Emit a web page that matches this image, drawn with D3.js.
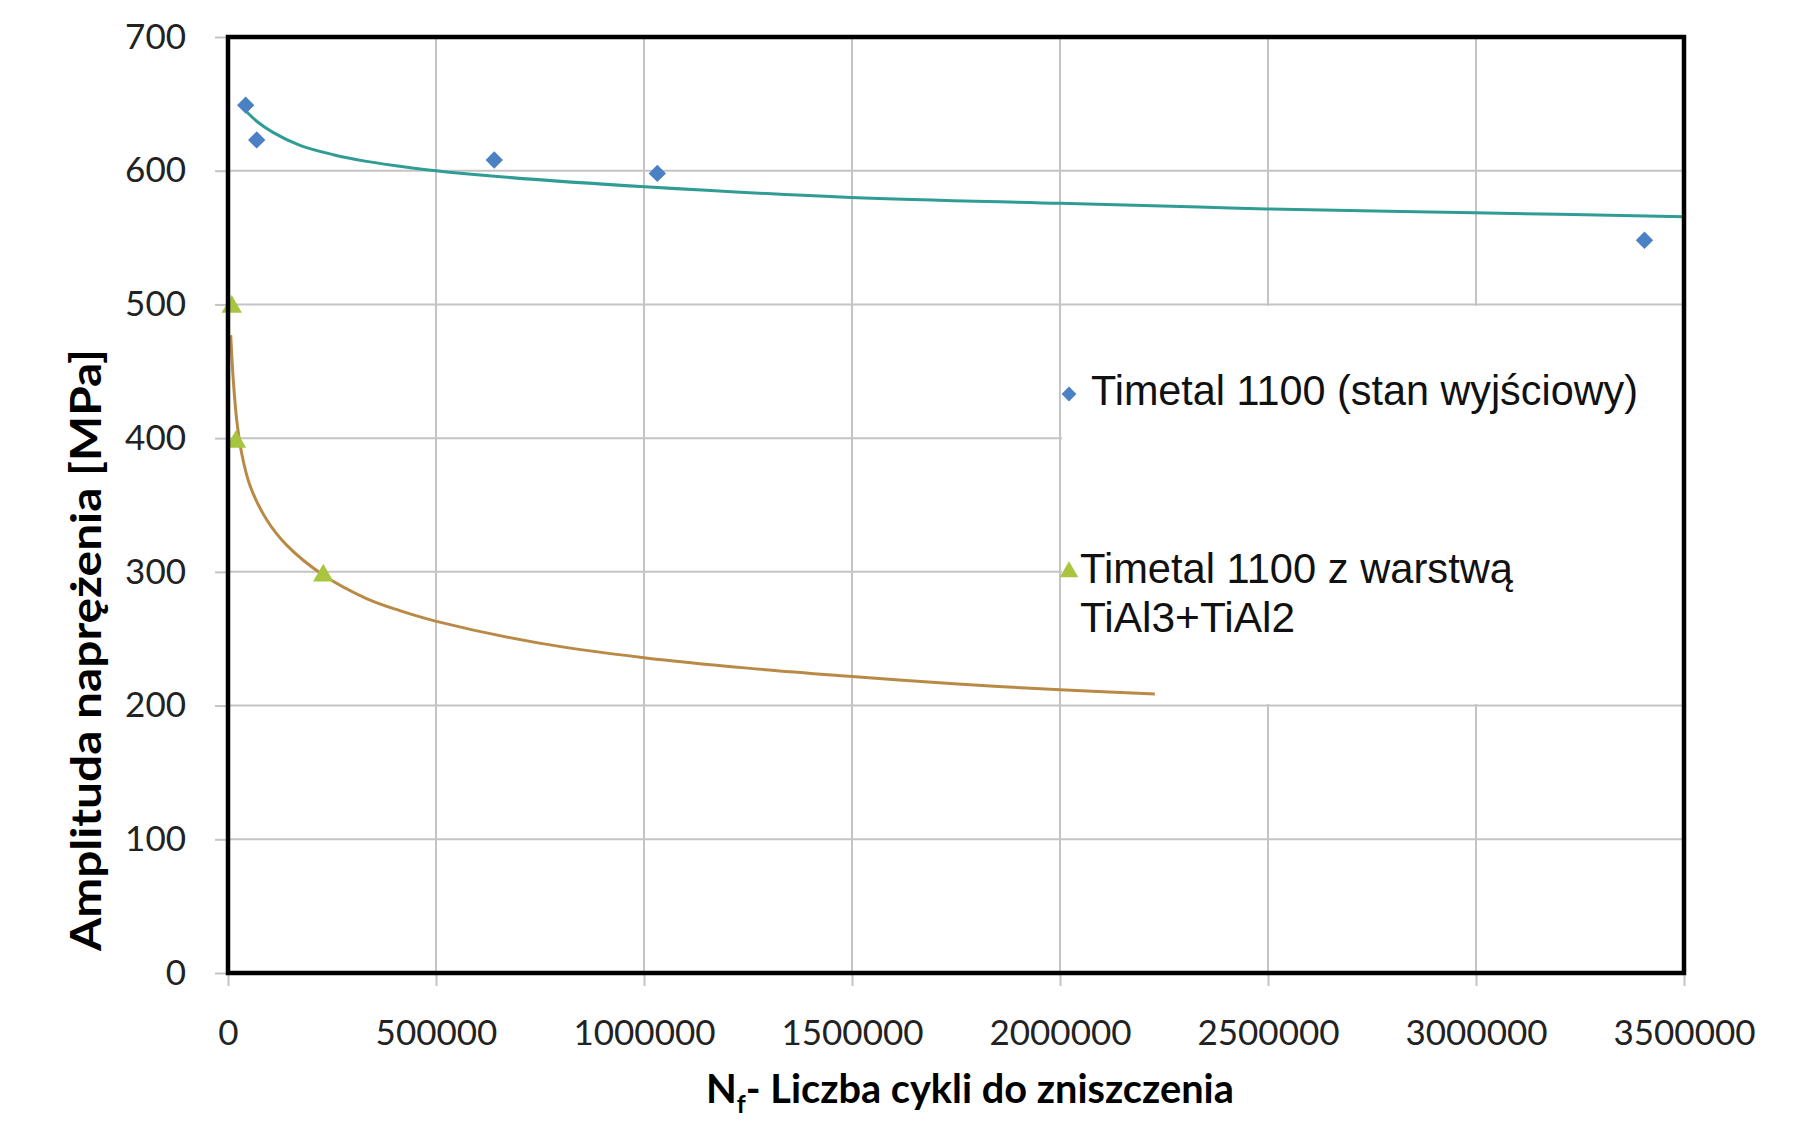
<!DOCTYPE html>
<html>
<head>
<meta charset="utf-8">
<script src="https://cdn.jsdelivr.net/npm/d3@7"></script>
<style>
  body { margin: 0; background: #fff; }
  .tick text { font-family: Lato, "Open Sans", sans-serif; font-size: 35px; fill: #222; }
</style>
</head>
<body>
<script>
// values
const xTicks = [0, 500000, 1000000, 1500000, 2000000, 2500000, 3000000, 3500000]
const yTicks = [0, 100, 200, 300, 400, 500, 600, 700]

// Timetal 1100 (stan wyjsciowy) - points
const baseX = [42500, 69000, 640000, 1032000, 3405000]
const baseY = [649, 623, 608, 598, 548]
// its trend line, traced
const baseTrendX = [36800, 69000, 109000, 173000, 253000, 333000, 413000, 500000, 634000, 1002000, 1498000, 2000000, 2335000, 2497000, 2995000, 3500000]
const baseTrendY = [646.7, 637, 628.5, 619, 612, 607, 603.4, 600, 596, 588, 580, 575.6, 572.8, 571.4, 568.6, 565.5]

// Timetal 1100 z warstwa TiAl3+TiAl2 - points
const coatX = [8900, 19200, 229000]
const coatY = [499, 398, 298]
// its trend line, traced
const coatTrendX = [6500, 12700, 20900, 32900, 52900, 93000, 141000, 229000, 333000, 413000, 501000, 752000, 1000000, 1249000, 1500000, 1745000, 2000000, 2228000]
const coatTrendY = [477, 443.5, 413.6, 388.6, 364.5, 339, 320, 297.6, 280, 271, 263, 246.5, 235.8, 228, 221.8, 216.3, 211.8, 208.6]

const legendLabels = ['Timetal 1100 (stan wyjściowy)', 'Timetal 1100 z warstwą', 'TiAl3+TiAl2']

const chart = () => {
    let width = 1797, height = 1121
    let mLeft = 228, mRight = 1684, mTop = 37, mBottom = 973

    let blue = '#4a80c4', teal = '#2f9d94', green = '#a9c43f', brown = '#b98a45'
    let gridColor = '#c4c4c4'

    let svg = d3.select('body').append('svg')
        .attr('width', width)
        .attr('height', height)

    let x = d3.scaleLinear().domain([0, 3500000]).range([mLeft, mRight])
    let y = d3.scaleLinear().domain([0, 700]).range([mBottom, mTop])

    // gridlines
    svg.append('g').selectAll('line')
        .data(yTicks).enter()
        .append('line')
        .attr('x1', mLeft).attr('x2', mRight)
        .attr('y1', d => y(d)).attr('y2', d => y(d))
        .attr('stroke', gridColor).attr('stroke-width', 2)
    svg.append('g').selectAll('line')
        .data(xTicks).enter()
        .append('line')
        .attr('x1', d => x(d)).attr('x2', d => x(d))
        .attr('y1', mTop).attr('y2', mBottom)
        .attr('stroke', gridColor).attr('stroke-width', 2)

    // axes
    let yAxis = svg.append('g')
        .attr('transform', `translate(${mLeft},0)`)
        .call(d3.axisLeft(y).tickValues(yTicks).tickSize(13).tickPadding(29))
    let xAxis = svg.append('g')
        .attr('transform', `translate(0,${mBottom})`)
        .call(d3.axisBottom(x).tickValues(xTicks).tickSize(13).tickPadding(34).tickFormat(d3.format('d')))
    for (let a of [xAxis, yAxis]) {
        a.select('.domain').remove()
        a.selectAll('.tick line').attr('stroke', gridColor).attr('stroke-width', 2)
    }

    // legend background hides the gridlines behind it
    svg.append('rect')
        .attr('x', x(2000000) + 2).attr('y', y(500) + 1.5)
        .attr('width', mRight - x(2000000) - 2).attr('height', y(200) - y(500) - 3)
        .attr('fill', '#fff')

    // trend lines
    let line = d3.line().x(d => x(d[0])).y(d => y(d[1])).curve(d3.curveCatmullRom.alpha(0.5))
    svg.append('path')
        .datum(d3.zip(baseTrendX, baseTrendY))
        .attr('d', line)
        .attr('fill', 'none').attr('stroke', teal).attr('stroke-width', 3)
    svg.append('path')
        .datum(d3.zip(coatTrendX, coatTrendY))
        .attr('d', line)
        .attr('fill', 'none').attr('stroke', brown).attr('stroke-width', 3)

    // markers
    let diamond = d3.symbol().type(d3.symbolSquare).size(150)
    let triangle = d3.symbol().type(d3.symbolTriangle).size(180)

    svg.append('g').selectAll('path')
        .data(d3.zip(baseX, baseY)).enter()
        .append('path')
        .attr('d', diamond)
        .attr('transform', d => `translate(${x(d[0])},${y(d[1])}) rotate(45)`)
        .attr('fill', blue)
    svg.append('g').selectAll('path')
        .data(d3.zip(coatX, coatY)).enter()
        .append('path')
        .attr('d', triangle)
        .attr('transform', d => `translate(${x(d[0])},${y(d[1]) + 1})`)
        .attr('fill', green)

    // frame
    svg.append('rect')
        .attr('x', mLeft).attr('y', mTop)
        .attr('width', mRight - mLeft).attr('height', mBottom - mTop)
        .attr('fill', 'none').attr('stroke', '#000').attr('stroke-width', 4.5)

    // legend
    let legend = svg.append('g')
        .style('font-family', '"Liberation Sans", Arial, sans-serif')
        .style('font-size', '43px')
        .attr('fill', '#111')
    legend.append('path')
        .attr('d', d3.symbol().type(d3.symbolSquare).size(110))
        .attr('transform', 'translate(1069,394) rotate(45)')
        .attr('fill', blue)
    legend.append('text')
        .attr('x', 1091).attr('y', 405)
        .attr('textLength', 547).attr('lengthAdjust', 'spacingAndGlyphs')
        .text(legendLabels[0])
    legend.append('path')
        .attr('d', d3.symbol().type(d3.symbolTriangle).size(150))
        .attr('transform', 'translate(1069,572)')
        .attr('fill', green)
    legend.append('text')
        .attr('x', 1080).attr('y', 583)
        .attr('textLength', 433).attr('lengthAdjust', 'spacingAndGlyphs')
        .text(legendLabels[1])
    legend.append('text')
        .attr('x', 1080).attr('y', 632)
        .attr('textLength', 215).attr('lengthAdjust', 'spacingAndGlyphs')
        .text(legendLabels[2])

    // axis titles
    svg.append('text')
        .attr('transform', 'translate(101,650) rotate(-90)')
        .attr('text-anchor', 'middle')
        .style('font-family', 'Lato, "Open Sans", sans-serif')
        .style('font-weight', 'bold')
        .style('font-size', '42px')
        .attr('textLength', 602).attr('lengthAdjust', 'spacingAndGlyphs')
        .text('Amplituda naprężenia [MPa]')

    let xt = svg.append('text')
        .attr('x', 706).attr('y', 1103)
        .style('font-family', 'Lato, "Open Sans", sans-serif')
        .style('font-weight', 'bold')
        .style('font-size', '40px')
    xt.append('tspan').text('N')
    xt.append('tspan').attr('dy', 10).style('font-size', '25px').text('f')
    xt.append('tspan').attr('dy', -10)
        .attr('textLength', 488).attr('lengthAdjust', 'spacingAndGlyphs')
        .text('- Liczba cykli do zniszczenia')
}

chart()
</script>
</body>
</html>
